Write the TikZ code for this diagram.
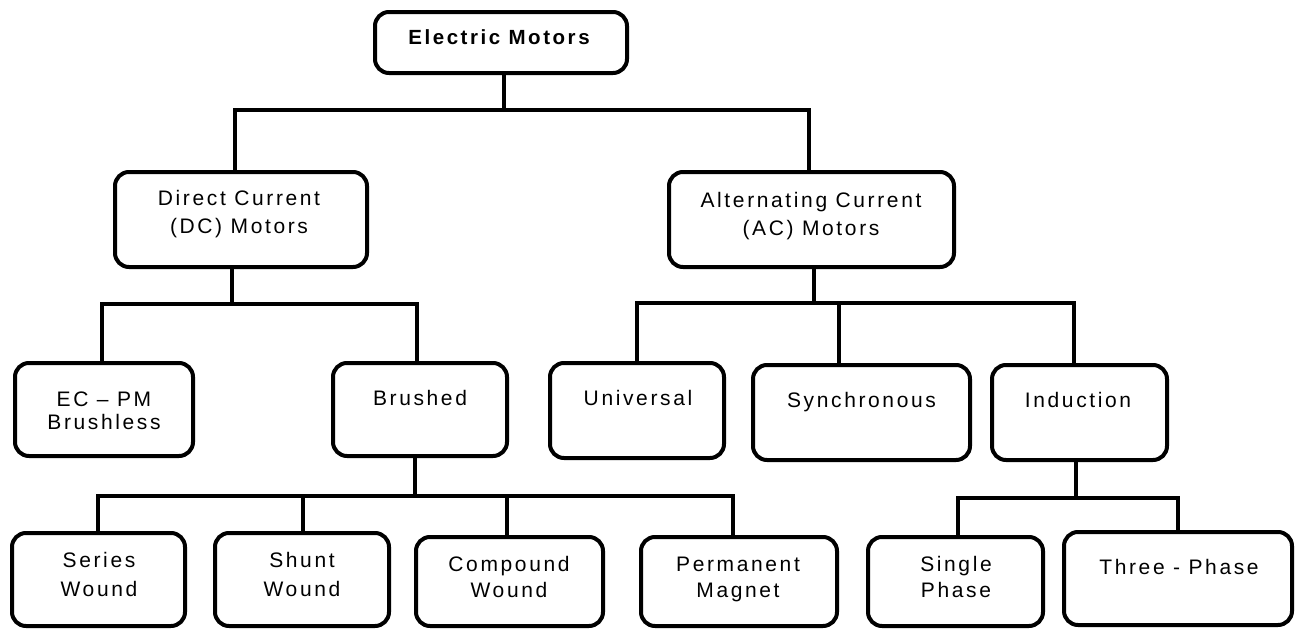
\documentclass[tikz,border=0pt]{standalone}
\usepackage{fontspec}
\setmainfont[LetterSpace=12.5]{Liberation Sans}
\newcommand\twolines[3]{\vtop{\baselineskip=#3pt\halign{\hfil##\hfil\cr#1\cr#2\cr}}}
\begin{document}
\begin{tikzpicture}[x=1pt,y=-1pt,
  box/.style={draw=black, line width=4pt, rounded corners=14pt, inner sep=0pt, outer sep=0pt, fill=white},
  lbl/.style={anchor=base, inner sep=0pt, font=\fontsize{21}{27}\selectfont},
  conn/.style={draw=black, line width=4pt}]
\useasboundingbox[fill=white] (0,0) rectangle (1296,629);

% boxes (centre, size)
\node[box, minimum width=252, minimum height=61] (root) at (501,42.5) {};
\node[box, minimum width=252, minimum height=95] (dc) at (241,219.5) {};
\node[box, minimum width=285, minimum height=95] (ac) at (811.5,219.5) {};
\node[box, minimum width=178, minimum height=93] (ec) at (104,409.5) {};
\node[box, minimum width=174, minimum height=93] (brushed) at (420,409.5) {};
\node[box, minimum width=174, minimum height=95] (univ) at (637,410.5) {};
\node[box, minimum width=217, minimum height=95] (sync) at (861.5,412.5) {};
\node[box, minimum width=175, minimum height=95] (ind) at (1079.5,412.5) {};
\node[box, minimum width=173, minimum height=93] (series) at (98.5,579.5) {};
\node[box, minimum width=174, minimum height=93] (shunt) at (302,579.5) {};
\node[box, minimum width=187, minimum height=89] (compound) at (509.5,581.5) {};
\node[box, minimum width=196, minimum height=89] (perm) at (739,581.5) {};
\node[box, minimum width=175, minimum height=89] (single) at (955.5,581.5) {};
\node[box, minimum width=228, minimum height=93] (three) at (1178,578.5) {};

% texts
\node[lbl, font=\fontsize{20.5}{27}\selectfont\bfseries] (root-t) at (499,44) {Electric Motors};
\node[lbl] (dc-t) at (239,205) {\twolines{Direct Current}{(DC) Motors}{28}};
\node[lbl] (ac-t) at (811,207) {\twolines{Alternating Current}{(AC) Motors}{28}};
\node[lbl] (ec-t) at (104,406) {\twolines{EC -- PM}{Brushless}{23}};
\node[lbl] (brushed-t) at (420,405) {Brushed};
\node[lbl] (univ-t) at (638,405) {Universal};
\node[lbl] (sync-t) at (861.5,407) {Synchronous};
\node[lbl] (ind-t) at (1078,407) {Induction};
\node[lbl] (series-t) at (99,567) {\twolines{Series}{Wound}{29}};
\node[lbl] (shunt-t) at (302,567) {\twolines{Shunt}{Wound}{29}};
\node[lbl] (compound-t) at (509,571) {\twolines{Compound}{Wound}{26}};
\node[lbl] (perm-t) at (738,571) {\twolines{Permanent}{Magnet}{26}};
\node[lbl] (single-t) at (956,571) {\twolines{Single}{Phase}{26}};
\node[lbl] (three-t) at (1179,574) {Three - Phase};

% bus junctions
\coordinate (r1) at (504,110);
\coordinate (d1) at (235,110);
\coordinate (a1) at (809,110);
\coordinate (s2) at (232,304);
\coordinate (e2) at (102,304);
\coordinate (b2) at (417,304);
\coordinate (s3) at (814,303);
\coordinate (u3) at (637,303);
\coordinate (y3) at (839,303);
\coordinate (i3) at (1074,303);
\coordinate (s4) at (415,496);
\coordinate (a4) at (98,496);
\coordinate (b4) at (303,496);
\coordinate (c4) at (507,496);
\coordinate (d4) at (733,496);
\coordinate (s5) at (1076,498);
\coordinate (a5) at (958,498);
\coordinate (b5) at (1178,498);

% connectors
\draw[conn] (root.south -| r1) -- (r1);
\draw[conn] (dc.north -| d1) -- (d1) -- (a1) -- (ac.north -| a1);

\draw[conn] (dc.south -| s2) -- (s2);
\draw[conn] (ec.north -| e2) -- (e2) -- (b2) -- (brushed.north -| b2);

\draw[conn] (ac.south -| s3) -- (s3);
\draw[conn] (univ.north -| u3) -- (u3) -- (i3) -- (ind.north -| i3);
\draw[conn] (sync.north -| y3) -- (y3);

\draw[conn] (brushed.south -| s4) -- (s4);
\draw[conn] (series.north -| a4) -- (a4) -- (d4) -- (perm.north -| d4);
\draw[conn] (shunt.north -| b4) -- (b4);
\draw[conn] (compound.north -| c4) -- (c4);

\draw[conn] (ind.south -| s5) -- (s5);
\draw[conn] (single.north -| a5) -- (a5) -- (b5) -- (three.north -| b5);
\end{tikzpicture}
\end{document}
